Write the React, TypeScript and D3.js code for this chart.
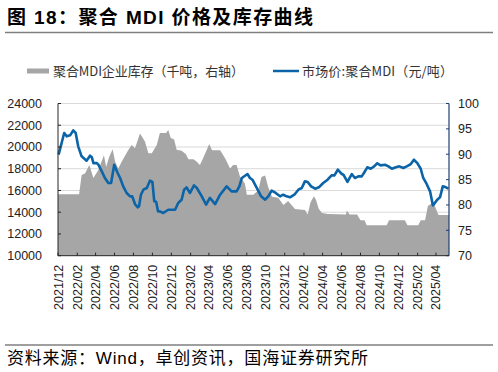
import * as d3 from 'd3';

// 价格（元/吨），左轴
const priceDates = [
  '2021-12-03', '2021-12-21', '2021-12-29', '2022-01-09', '2022-01-19', '2022-01-27', '2022-02-04', '2022-02-15',
  '2022-03-03', '2022-03-14', '2022-03-20', '2022-03-25', '2022-04-05', '2022-04-10', '2022-04-21', '2022-05-01',
  '2022-05-12', '2022-05-21', '2022-05-31', '2022-06-11', '2022-06-19', '2022-06-29', '2022-07-10', '2022-07-21',
  '2022-07-28', '2022-08-06', '2022-08-15', '2022-08-19', '2022-08-25', '2022-09-02', '2022-09-13', '2022-09-23',
  '2022-10-01', '2022-10-07', '2022-10-13', '2022-10-19', '2022-10-25', '2022-11-05', '2022-11-21', '2022-12-13',
  '2022-12-23', '2023-01-03', '2023-01-11', '2023-01-19', '2023-01-30', '2023-02-12', '2023-02-21', '2023-03-09',
  '2023-03-23', '2023-04-04', '2023-04-21', '2023-05-07', '2023-05-28', '2023-06-13', '2023-06-29', '2023-07-08',
  '2023-07-16', '2023-08-03', '2023-08-11', '2023-08-19', '2023-09-02', '2023-09-16', '2023-09-29', '2023-10-09',
  '2023-10-20', '2023-11-02', '2023-11-16', '2023-11-26', '2023-12-07', '2023-12-18', '2024-01-01', '2024-01-14',
  '2024-01-25', '2024-02-04', '2024-02-13', '2024-02-24', '2024-03-08', '2024-03-20', '2024-04-03', '2024-04-17',
  '2024-04-30', '2024-05-09', '2024-05-20', '2024-06-02', '2024-06-07', '2024-06-20', '2024-07-04', '2024-07-14',
  '2024-07-25', '2024-08-05', '2024-08-12', '2024-08-23', '2024-09-03', '2024-09-14', '2024-09-24', '2024-10-05',
  '2024-10-19', '2024-10-30', '2024-11-10', '2024-11-23', '2024-12-04', '2024-12-17', '2024-12-28', '2025-01-10',
  '2025-01-20', '2025-01-31', '2025-02-11', '2025-02-19', '2025-03-02', '2025-03-13', '2025-03-22', '2025-03-26',
  '2025-04-05', '2025-04-14', '2025-04-23', '2025-05-03', '2025-05-11',
];
const priceValues = [
  19300, 21290, 20980, 21070, 21530, 21290, 20060, 19140,
  18740, 19200, 19050, 18520, 18520, 18370, 17760, 17150,
  16690, 16690, 18370, 17610, 17150, 16380, 15770, 15460,
  15460, 14750, 14450, 14540, 15610, 16070, 16230, 16900,
  16780, 15000, 14970, 14080, 14080, 13930, 14230, 14230,
  14850, 15150, 16070, 16290, 15770, 16470, 16230, 15460,
  14690, 15310, 14750, 15610, 16380, 15920, 15920, 16380,
  17150, 17510, 17150, 16990, 16230, 15460, 15150, 15460,
  15980, 15770, 15460, 15610, 15460, 15370, 15610, 16070,
  16230, 16840, 16780, 16380, 16160, 16290, 16690, 16990,
  17390, 17390, 17910, 17510, 17450, 16780, 17510, 17150,
  17300, 17300, 17610, 18130, 18000, 18220, 18500, 18310,
  18370, 18220, 18000, 18130, 18220, 18070, 18220, 18430,
  18830, 18520, 18000, 17150, 16600, 15920, 14630, 14750,
  15150, 15370, 16380, 16290, 16160,
];

// 企业库存（千吨），右轴
const stockDates = [
  '2021-12-01', '2022-02-07', '2022-02-15', '2022-02-26', '2022-03-12', '2022-03-25', '2022-04-10', '2022-04-28',
  '2022-05-05', '2022-05-15', '2022-05-26', '2022-06-03', '2022-06-13', '2022-06-24', '2022-07-15', '2022-07-26',
  '2022-08-06', '2022-08-22', '2022-09-07', '2022-09-18', '2022-09-29', '2022-10-15', '2022-10-25', '2022-11-14',
  '2022-11-21', '2022-11-29', '2022-12-10', '2022-12-18', '2023-01-03', '2023-01-17', '2023-01-25', '2023-02-10',
  '2023-02-21', '2023-03-03', '2023-03-14', '2023-04-02', '2023-04-11', '2023-05-07', '2023-05-23', '2023-06-08',
  '2023-06-18', '2023-06-29', '2023-07-10', '2023-07-26', '2023-08-01', '2023-08-22', '2023-09-07', '2023-09-17',
  '2023-09-29', '2023-10-09', '2023-10-21', '2023-11-10', '2023-11-27', '2023-12-12', '2023-12-23', '2024-01-03',
  '2024-02-04', '2024-02-13', '2024-02-22', '2024-03-04', '2024-03-11', '2024-03-19', '2024-03-30', '2024-04-18',
  '2024-06-15', '2024-06-18', '2024-06-27', '2024-07-21', '2024-08-01', '2024-08-14', '2024-08-21', '2024-10-24',
  '2024-11-01', '2024-12-22', '2024-12-30', '2025-02-03', '2025-02-11', '2025-02-25', '2025-03-06', '2025-03-18',
  '2025-03-27', '2025-04-09', '2025-05-13',
];
const stockValues = [
  82.1, 82.1, 85.9, 86.2, 87.9, 85.3, 86.9, 89.8,
  87.5, 89.5, 91.0, 88.5, 87.2, 88.5, 90.8, 91.8,
  91.2, 94.1, 92.5, 90.2, 90.2, 91.8, 94.2, 94.2,
  94.8, 93.2, 92.9, 90.9, 90.7, 90.0, 89.0, 89.0,
  88.5, 87.9, 89.3, 92.0, 90.8, 90.8, 89.2, 87.2,
  87.9, 87.9, 85.6, 84.2, 82.0, 82.0, 82.9, 85.5,
  85.8, 83.5, 81.6, 81.4, 80.0, 80.8, 80.0, 79.2,
  79.0, 78.1, 80.5, 81.7, 81.0, 79.3, 78.4, 78.2,
  78.1, 78.9, 78.1, 78.1, 77.0, 77.0, 76.0, 76.0,
  77.0, 77.0, 76.0, 76.0, 77.0, 77.0, 79.8, 80.3,
  80.0, 78.0, 78.0,
];

const leftTicks = [10000, 12000, 14000, 16000, 18000, 20000, 22000, 24000];
const rightTicks = [70, 75, 80, 85, 90, 95, 100];

const parse = d3.timeParse('%Y-%m-%d');
const price = priceDates.map((d, i) => ({ date: parse(d) as Date, v: priceValues[i] }));
const stock = stockDates.map((d, i) => ({ date: parse(d) as Date, v: stockValues[i] }));

const W = 498;
const H = 372;
const plot = { left: 58, right: 449, top: 103.5, bottom: 255.7 };

const BLUE = '#0b64a8';
const GREY = '#a6a6a6';
const latin = '"Liberation Sans", Arial, "Noto Sans CJK SC", sans-serif';
const cjk = '"Noto Sans CJK SC", "Liberation Sans", sans-serif';

export default function App() {
  const x = d3.scaleTime()
    .domain([new Date(2021, 11, 1), new Date(2025, 4, 13)])
    .range([plot.left, plot.right]);
  const yL = d3.scaleLinear().domain([10000, 24000]).range([plot.bottom, plot.top]);
  const yR = d3.scaleLinear().domain([70, 100]).range([plot.bottom, plot.top]);

  const xTicks = d3.timeMonth.range(new Date(2021, 11, 1), new Date(2025, 4, 2), 2);
  const fmt = d3.timeFormat('%Y/%m');

  const area = d3.area<{ date: Date; v: number }>()
    .x(d => x(d.date))
    .y0(plot.bottom)
    .y1(d => yR(d.v));
  const line = d3.line<{ date: Date; v: number }>()
    .x(d => x(d.date))
    .y(d => yL(d.v));

  return (
    <svg width={W} height={H} style={{ position: 'absolute', left: 0, top: 0, background: '#fff' }}>
      {/* 标题 */}
      <text x={7} y={24} fontFamily={latin} fontWeight={700} fontSize={19} fill="#000" textLength={306} lengthAdjust="spacing">
        图 18：聚合 MDI 价格及库存曲线
      </text>
      <line x1={5} x2={493} y1={32.5} y2={32.5} stroke="#7f7f7f" strokeWidth={1.5} />

      {/* 图例 */}
      <rect x={27} y={68.5} width={22} height={5} fill={GREY} />
      <text x={53} y={75.5} fontFamily={cjk} fontSize={13} fill="#333" textLength={191} lengthAdjust="spacing">
        聚合MDI企业库存（千吨，右轴）
      </text>
      <line x1={273} x2={299} y1={71} y2={71} stroke={BLUE} strokeWidth={2.5} />
      <text x={302} y={75.5} fontFamily={cjk} fontSize={13} fill="#333" textLength={151} lengthAdjust="spacing">
        市场价:聚合MDI（元/吨）
      </text>

      {/* 网格线 */}
      {leftTicks.slice(1).map(t => (
        <line key={t} x1={plot.left} x2={plot.right} y1={yL(t)} y2={yL(t)} stroke="#d9d9d9" strokeWidth={1} />
      ))}

      {/* 库存面积 */}
      <path d={area(stock) || ''} fill={GREY} />

      {/* 价格线 */}
      <path d={line(price) || ''} fill="none" stroke={BLUE} strokeWidth={2.6} strokeLinejoin="round" />

      {/* 左轴 */}
      <line x1={plot.left} x2={plot.left} y1={plot.top} y2={plot.bottom} stroke="#262626" strokeWidth={1} />
      {leftTicks.map(t => (
        <g key={t}>
          <line x1={plot.left} x2={plot.left + 3} y1={yL(t)} y2={yL(t)} stroke="#262626" />
          <text x={42} y={yL(t)} dy="0.36em" textAnchor="end" fontFamily={latin} fontSize={12.5} fill="#222">
            {t}
          </text>
        </g>
      ))}

      {/* 右轴 */}
      <line x1={plot.right} x2={plot.right} y1={plot.top} y2={plot.bottom} stroke="#1f3f6e" strokeWidth={1.2} />
      {rightTicks.map(t => (
        <g key={t}>
          <line x1={plot.right - 3} x2={plot.right} y1={yR(t)} y2={yR(t)} stroke="#1f3f6e" />
          <text x={458} y={yR(t)} dy="0.36em" fontFamily={latin} fontSize={12.5} fill="#222">
            {t}
          </text>
        </g>
      ))}

      {/* 底轴 */}
      <line x1={plot.left} x2={plot.right} y1={plot.bottom} y2={plot.bottom} stroke="#262626" strokeWidth={1} />
      {xTicks.map(d => (
        <g key={+d} transform={`translate(${x(d)},0)`}>
          <line y1={plot.bottom - 3} y2={plot.bottom} stroke="#262626" />
          <text
            transform={`translate(0,${plot.bottom + 9}) rotate(-90)`}
            dy="0.36em"
            textAnchor="end"
            fontFamily={latin}
            fontSize={12.5}
            fill="#222"
          >
            {fmt(d)}
          </text>
        </g>
      ))}

      {/* 资料来源 */}
      <line x1={5} x2={493} y1={345} y2={345} stroke="#7f7f7f" strokeWidth={1.5} />
      <text x={7} y={364} fontFamily={latin} fontSize={17} fill="#000" textLength={361} lengthAdjust="spacing">
        资料来源：Wind，卓创资讯，国海证券研究所
      </text>
    </svg>
  );
}
